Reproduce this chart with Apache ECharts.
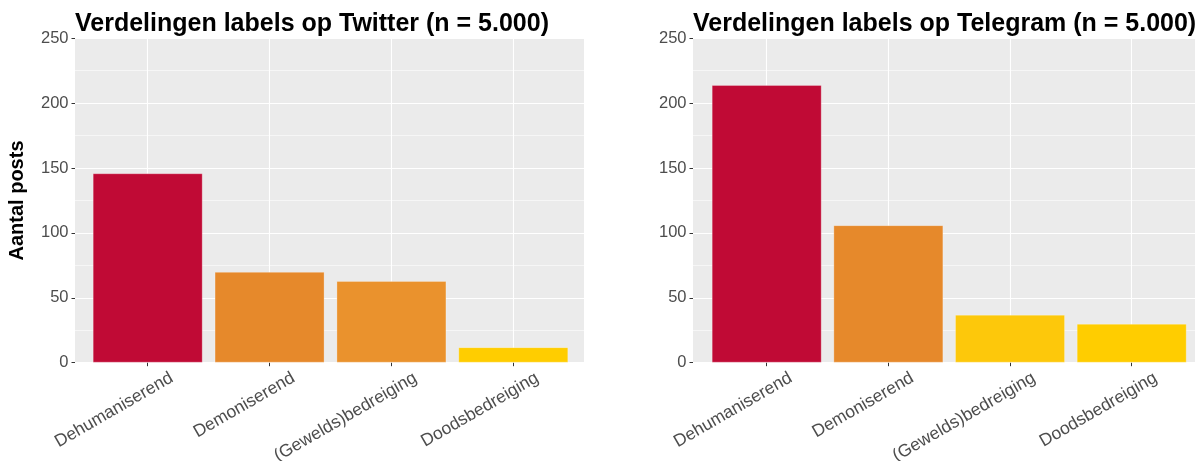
<!DOCTYPE html>
<html><head><meta charset="utf-8">
<script src="https://cdn.jsdelivr.net/npm/echarts@6/dist/echarts.min.js"></script>
<style>html,body{margin:0;padding:0;background:#fff}#c{width:1202px;height:461px}</style>
</head><body><div id="c"></div>
<script>
// ---- data ----
const categories = ['Dehumaniserend', 'Demoniserend', '(Gewelds)bedreiging', 'Doodsbedreiging'];
const twitterCounts = [146, 70, 63, 12];
const telegramCounts = [214, 106, 37, 30];
const yMin = 0, yMax = 250, yStep = 50;
const twitterTitle = 'Verdelingen labels op Twitter (n = 5.000)';
const telegramTitle = 'Verdelingen labels op Telegram (n = 5.000)';
const yTitle = 'Aantal posts';

// ---- style ----
const twitterColors = ['#C00A35', '#E6892B', '#EA922D', '#FFCD00'];
const telegramColors = ['#C00A35', '#E6892B', '#FDC80B', '#FFCD00'];
const FONT = "'Liberation Sans', Arial, sans-serif";
const TOP = 38.3, H = 324.4;

const panels = [
  { title: twitterTitle, values: twitterCounts, colors: twitterColors, bgLeft: 75, bgWidth: 509, barLeft: 147.7, barW: 365.6, yName: yTitle },
  { title: telegramTitle, values: telegramCounts, colors: telegramColors, bgLeft: 693, bgWidth: 502, barLeft: 766.7, barW: 365, yName: '' }
];

const grid = [], xAxis = [], yAxis = [], series = [], title = [];
panels.forEach((p, i) => {
  const g0 = grid.length;
  grid.push({ left: p.bgLeft, top: TOP, width: p.bgWidth, height: H, show: true, backgroundColor: '#EBEBEB', borderWidth: 0, z: -5, outerBoundsMode: 'none', containLabel: false });
  grid.push({ left: p.barLeft, top: TOP, width: p.barW, height: H, outerBoundsMode: 'none', containLabel: false });
  grid.push({ left: p.barLeft + 24, top: TOP, width: p.barW, height: H, outerBoundsMode: 'none', containLabel: false });

  // background grid axes
  xAxis.push({ gridIndex: g0, type: 'category', data: categories, show: false });
  yAxis.push({
    gridIndex: g0, type: 'value', min: yMin, max: yMax, interval: yStep,
    axisLine: { show: false },
    axisTick: { show: true, length: 3.5, lineStyle: { color: '#333333', width: 1 } },
    axisLabel: { fontSize: 16.5, color: '#4D4D4D', fontFamily: FONT, margin: 6.5 },
    splitLine: { show: true, lineStyle: { color: '#FFFFFF', width: 1.1 } },
    minorTick: { show: false, splitNumber: 2 },
    minorSplitLine: { show: true, lineStyle: { color: '#FFFFFF', width: 0.55 } },
    name: p.yName, nameLocation: 'middle', nameGap: 48,
    nameTextStyle: { fontSize: 20, fontWeight: 'bold', color: '#000', fontFamily: FONT }
  });
  // bar grid axes
  xAxis.push({
    gridIndex: g0 + 1, type: 'category', data: categories, boundaryGap: false,
    axisLine: { show: false },
    axisTick: { show: true, interval: 0, length: 3.5, lineStyle: { color: '#333333', width: 1 } },
    axisLabel: { show: false, interval: 0 },
    splitLine: { show: true, interval: 0, lineStyle: { color: '#FFFFFF', width: 1.1 } }
  });
  yAxis.push({ gridIndex: g0 + 1, type: 'value', min: yMin, max: yMax, interval: yStep, show: false });
  // label grid axes
  xAxis.push({
    gridIndex: g0 + 2, type: 'category', data: categories, boundaryGap: false,
    axisLine: { show: false }, axisTick: { show: false }, splitLine: { show: false },
    axisLabel: { rotate: 30, interval: 0, margin: 14, fontSize: 17.5, color: '#4D4D4D', fontFamily: FONT }
  });
  yAxis.push({ gridIndex: g0 + 2, type: 'value', min: yMin, max: yMax, show: false });

  series.push({
    type: 'bar', xAxisIndex: g0 + 1, yAxisIndex: g0 + 1, barWidth: 110, clip: false,
    data: p.values.map((v, j) => ({ value: v, itemStyle: { color: p.colors[j], borderColor: 'rgba(255,255,255,0.25)', borderWidth: 1 } })),
    emphasis: { disabled: true }
  });
  title.push({ text: p.title, left: p.bgLeft, top: 12, padding: 0, textStyle: { fontSize: 25, fontWeight: 'bold', color: '#000', fontFamily: FONT } });
});

const chart = echarts.init(document.getElementById('c'), null, { renderer: 'canvas' });
chart.setOption({ animation: false, backgroundColor: '#FFFFFF', title, grid, xAxis, yAxis, series });
</script></body></html>
